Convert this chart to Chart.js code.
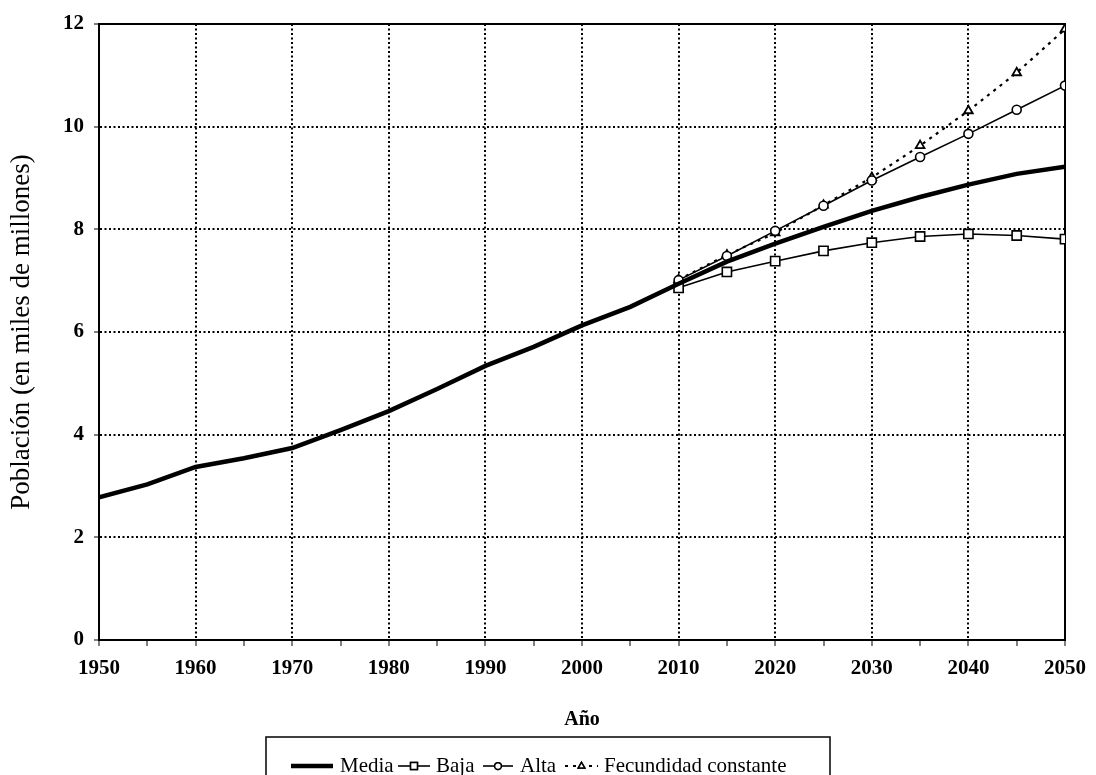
<!DOCTYPE html>
<html>
<head>
<meta charset="utf-8">
<script src="https://cdn.jsdelivr.net/npm/chart.js@4.4.1/dist/chart.umd.min.js"></script>
<style>
  html, body { margin: 0; padding: 0; background: #fff; }
  canvas { display: block; }
</style>
</head>
<body>
<canvas id="chart" width="1096" height="775"></canvas>
<script>
// ---------- DATA ----------
const mediaYears = [1950, 1955, 1960, 1965, 1970, 1975, 1980, 1985, 1990, 1995, 2000,
                    2005, 2010, 2015, 2020, 2025, 2030, 2035, 2040, 2045, 2050];
const media = [2.78, 3.03, 3.37, 3.54, 3.74, 4.09, 4.46, 4.89, 5.34, 5.71, 6.13,
               6.49, 6.94, 7.37, 7.72, 8.05, 8.36, 8.63, 8.87, 9.08, 9.22];

const projYears = [2010, 2015, 2020, 2025, 2030, 2035, 2040, 2045, 2050];
const baja = [6.86, 7.17, 7.38, 7.58, 7.74, 7.86, 7.91, 7.88, 7.81];
const alta = [7.01, 7.48, 7.97, 8.46, 8.95, 9.41, 9.86, 10.33, 10.80];
const constante = [7.02, 7.50, 7.93, 8.47, 9.01, 9.63, 10.31, 11.05, 11.90];

const seriesNames = ["Media", "Baja", "Alta", "Fecundidad constante"];
const xTitle = "Año";
const yTitle = "Población (en miles de millones)";

// helpers
const SERIF = '"Liberation Serif", "DejaVu Serif", serif';
function pairs(xs, ys) { return xs.map((x, i) => ({ x, y: ys[i] })); }

// solid frame round the plot area
const framePlugin = {
  id: "frame",
  beforeDatasetsDraw(chart) {
    const { ctx, chartArea: a } = chart;
    ctx.save();
    ctx.setLineDash([]);
    ctx.strokeStyle = "#000";
    ctx.lineWidth = 2;
    ctx.strokeRect(a.left, a.top, a.right - a.left, a.bottom - a.top);
    ctx.restore();
  }
};

// boxed legend under the axis title
const legendPlugin = {
  id: "boxLegend",
  afterDraw(chart) {
    const ctx = chart.ctx;
    const y = 766;
    ctx.save();
    ctx.strokeStyle = "#000";
    ctx.lineWidth = 1.5;
    ctx.strokeRect(266, 737, 564, 60);
    ctx.font = "21px " + SERIF;
    ctx.textBaseline = "middle";
    ctx.fillStyle = "#000";
    const items = [
      { ds: 0, x1: 291, x2: 333, tx: 340 },
      { ds: 1, x1: 398, x2: 430, tx: 436 },
      { ds: 2, x1: 483, x2: 513, tx: 520 },
      { ds: 3, x1: 565, x2: 598, tx: 604 }
    ];
    items.forEach(it => {
      const d = chart.data.datasets[it.ds];
      ctx.beginPath();
      ctx.setLineDash(d.borderDash || []);
      ctx.lineWidth = d.borderWidth;
      ctx.moveTo(it.x1, y);
      ctx.lineTo(it.x2, y);
      ctx.stroke();
      ctx.setLineDash([]);
      if (d.pointRadius > 0) {
        ctx.fillStyle = "#fff";
        ctx.lineWidth = 1.5;
        Chart.helpers.drawPoint(ctx, { pointStyle: d.pointStyle, radius: d.pointRadius * 0.75, borderWidth: 1.5 },
          (it.x1 + it.x2) / 2, y);
        ctx.fill();
        ctx.stroke();
      }
      ctx.fillStyle = "#000";
      ctx.fillText(d.label, it.tx, y);
    });
    ctx.restore();
  }
};

const dotted = [2, 2.5];

new Chart(document.getElementById("chart"), {
  type: "line",
  data: {
    datasets: [
      { label: seriesNames[0], data: pairs(mediaYears, media), borderColor: "#000", borderWidth: 4.5,
        pointRadius: 0, tension: 0 },
      { label: seriesNames[1], data: pairs(projYears, baja), borderColor: "#000", borderWidth: 1.6,
        pointStyle: "rect", pointRadius: 6.5, pointBackgroundColor: "#fff", pointBorderColor: "#000", pointBorderWidth: 1.6 },
      { label: seriesNames[2], data: pairs(projYears, alta), borderColor: "#000", borderWidth: 1.6,
        pointStyle: "circle", pointRadius: 4.5, pointBackgroundColor: "#fff", pointBorderColor: "#000", pointBorderWidth: 1.6 },
      { label: seriesNames[3], data: pairs(projYears, constante), borderColor: "#000", borderWidth: 2.2,
        borderDash: [3, 5], pointStyle: "triangle", pointRadius: 5, pointBackgroundColor: "#fff",
        pointBorderColor: "#000", pointBorderWidth: 1.8 }
    ]
  },
  options: {
    responsive: false,
    animation: false,
    devicePixelRatio: 1,
    layout: { padding: { left: 0, right: 25, top: 24, bottom: 0 } },
    plugins: { legend: { display: false }, tooltip: { enabled: false } },
    scales: {
      x: {
        type: "linear", min: 1950, max: 2050,
        afterFit(s) { s.height = 135; },
        ticks: {
          stepSize: 5, autoSkip: false, maxRotation: 0, padding: 10, color: "#000",
          font: { family: SERIF, size: 21, weight: "bold" },
          callback: v => (v % 10 === 0 ? String(v) : "")
        },
        grid: {
          color: c => (c.tick && c.tick.value % 10 === 0 ? "#000" : "rgba(0,0,0,0)"),
          lineWidth: 2, drawTicks: true, tickLength: 6,
          tickColor: "#000", tickWidth: 1, tickBorderDash: []
        },
        border: { display: true, color: "#000", width: 2, dash: dotted },
        title: { display: true, text: xTitle, color: "#000", padding: { bottom: 43 },
                 font: { family: SERIF, size: 20, weight: "bold" } }
      },
      y: {
        min: 0, max: 12,
        afterFit(s) { s.width = 99; },
        ticks: { stepSize: 2, padding: 10, color: "#000",
                 font: { family: SERIF, size: 21, weight: "bold" } },
        grid: { color: "#000", lineWidth: 2, drawTicks: true, tickLength: 5,
                tickColor: "#000", tickWidth: 1, tickBorderDash: [] },
        border: { display: true, color: "#000", width: 2, dash: dotted },
        title: { display: true, text: yTitle, color: "#000", padding: { top: 6 },
                 font: { family: SERIF, size: 27 } }
      }
    }
  },
  plugins: [framePlugin, legendPlugin]
});
</script>
</body>
</html>
